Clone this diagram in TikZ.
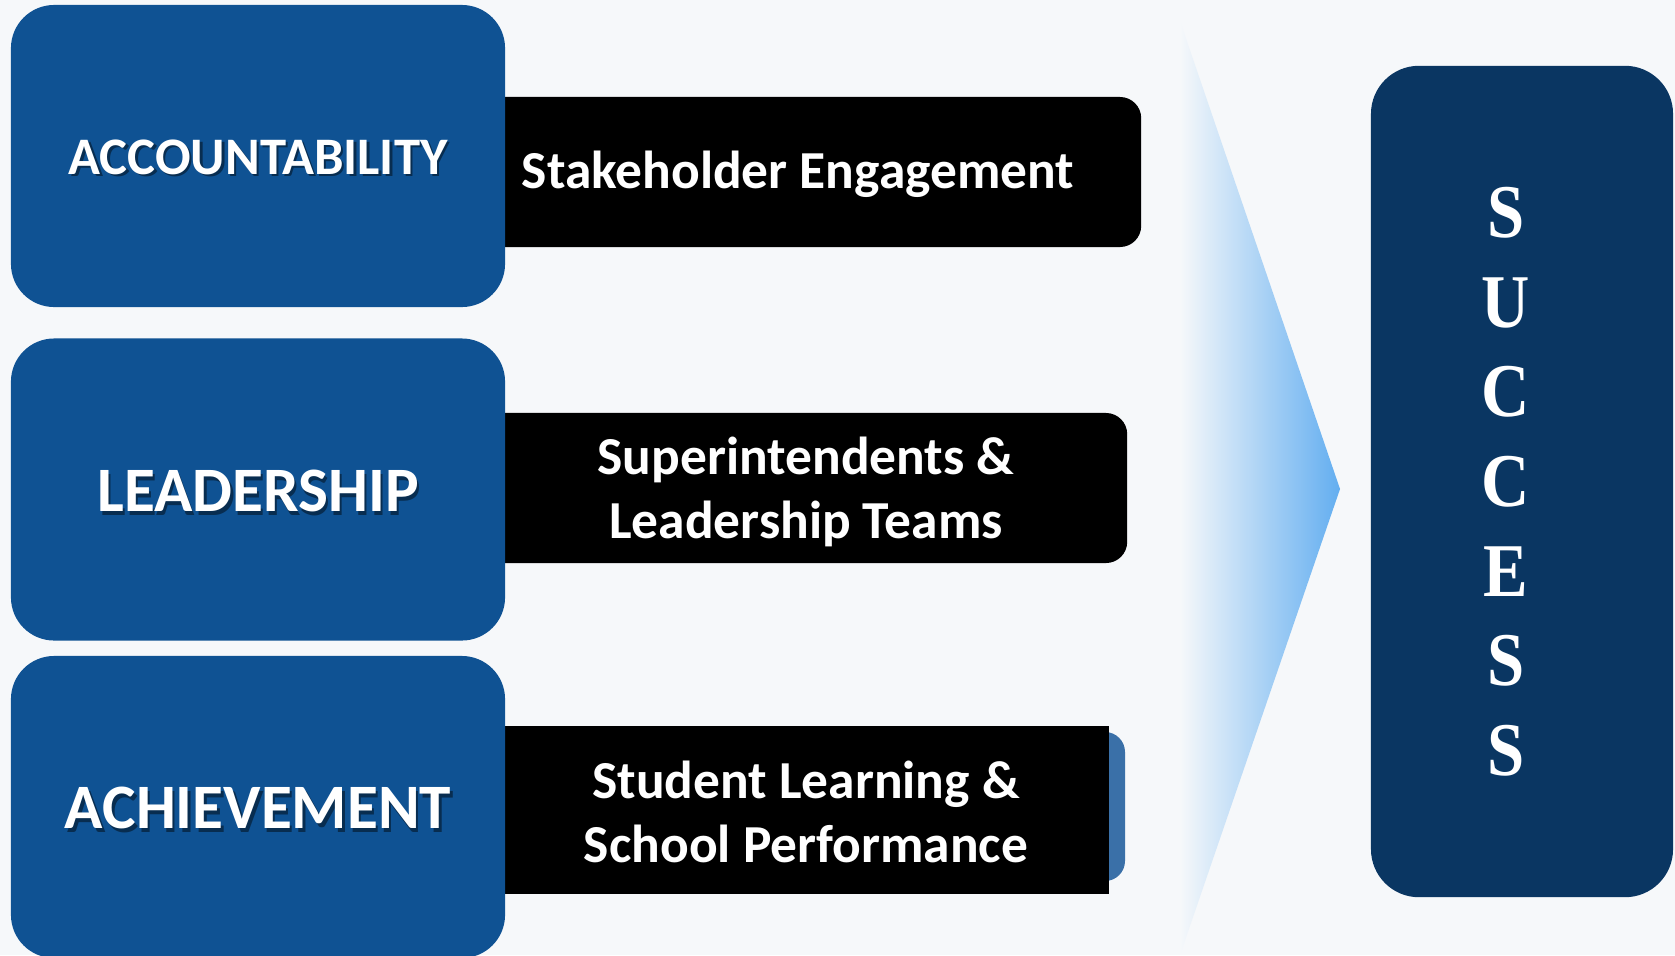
\documentclass[tikz,border=0pt]{standalone}
\usepackage{fontspec}
\setmainfont{Carlito}
\newfontfamily\lettersfont{Liberation Serif}
\usepackage{tikz}
\usepackage{xcolor}
\usetikzlibrary{positioning}
\usetikzlibrary{shapes}

\definecolor{paper}{RGB}{246,248,250}
\definecolor{pillarblue}{RGB}{15,82,147}
\definecolor{successblue}{RGB}{10,54,98}
\definecolor{backblue}{RGB}{58,112,168}
\definecolor{arrowblue}{RGB}{99,174,240}

\begin{document}
\begin{tikzpicture}
  [x=0.025cm,y=-0.025cm,
   pillar/.style={rectangle,rounded corners=1.08cm,fill=pillarblue,
     minimum width=12.35cm,minimum height=7.55cm,text=white,
     font=\bfseries\fontsize{45}{50}\selectfont},
   shadowtext/.style={text=black,opacity=0.45,
     font=\bfseries\fontsize{45}{50}\selectfont},
   bar/.style={rectangle,rounded corners=0.53cm,fill=black,minimum height=3.75cm},
   bartext/.style={text=white,align=center,font=\bfseries\fontsize{38}{45.5}\selectfont},
   goal/.style={rectangle,rounded corners=1.2cm,fill=successblue,
     minimum width=7.55cm,minimum height=20.78cm},
   letter/.style={text=white,font=\lettersfont\bfseries\fontsize{54}{54}\selectfont}]
  \useasboundingbox[fill=paper] (0,0) rectangle (1675,955);

  % arrow towards success
  \shade[left color=paper,right color=arrowblue]
    (1180,21) -- (1340,489) -- (1180,955) -- cycle;

  % bars behind the pillars
  \node[bar,minimum width=16.78cm] (bar1) at (805.5,172) {};
  \node[bar,minimum width=16.43cm] (bar2) at (798.5,488) {};
  \fill[backblue,rounded corners=0.5cm] (1000,732) rectangle (1125,881);
  \node[rectangle,fill=black,minimum width=15.1cm,minimum height=4.2cm] (bar3) at (807,810) {};

  \node[bartext] (t1) at (798,174) {Stakeholder Engagement};
  \node[bartext] (t2) at (806,492) {Superintendents \&\\Leadership Teams};
  \node[bartext] (t3) at (806,812) {Student Learning \&\\School Performance};

  % pillars
  \node[pillar] (acc) at (258,156) {};
  \node[pillar] (lead) at (258,489.5) {};
  \node[pillar] (ach) at (258,807) {};
  \node[shadowtext,font=\bfseries\fontsize{37.5}{40}\selectfont] at (260.5,159.5) {ACCOUNTABILITY};
  \node[text=white,font=\bfseries\fontsize{37.5}{40}\selectfont] (accl) at (258,157) {ACCOUNTABILITY};
  \node[shadowtext] at (260.5,494.5) {LEADERSHIP};
  \node[text=white,font=\bfseries\fontsize{45}{50}\selectfont] (leadl) at (258,491) {LEADERSHIP};
  \node[shadowtext] at (260.5,811.5) {ACHIEVEMENT};
  \node[text=white,font=\bfseries\fontsize{45}{50}\selectfont] (achl) at (258,808) {ACHIEVEMENT};

  % success
  \node[goal] (succ) at (1522,481.5) {};
  \foreach \ch [count=\i from 0] in {S,U,C,C,E,S,S}
    \node[letter] (l\i) at (1506,213+89.6*\i) {\scalebox{0.88}[1]{\ch}};
\end{tikzpicture}
\end{document}
